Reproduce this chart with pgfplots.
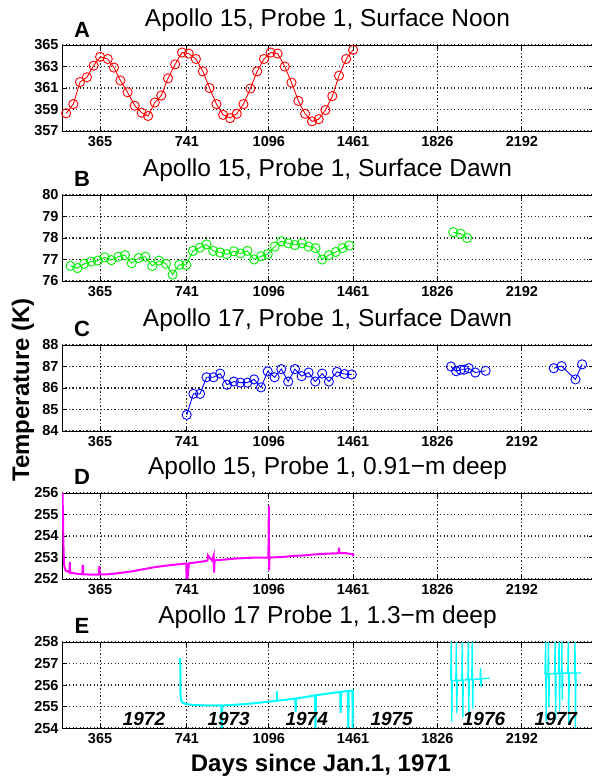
\documentclass[border=0pt]{standalone}
\usepackage{pgfplots}
\pgfplotsset{compat=1.18}
\usepackage{fontspec}
\setmainfont{Liberation Sans}

\definecolor{mred}{RGB}{255,0,0}
\definecolor{mgreen}{RGB}{0,240,0}
\definecolor{mblue}{RGB}{0,0,255}
\definecolor{mmag}{RGB}{255,0,255}
\definecolor{mcyan}{RGB}{0,255,255}

\pgfplotsset{
  panel/.style={
    width=531pt, height=86pt, scale only axis,
    anchor=north west,
    xmin=200, xmax=2500,
    xtick={365,741,1096,1461,1826,2192},
    grid=major,
    grid style={black!85, line width=1.1pt, dash pattern=on 1.1pt off 2.4pt},
    axis line style={black, line width=0.9pt},
    tick style={black, line width=0.9pt},
    tick align=inside, major tick length=4pt,
    tick label style={font=\bfseries\fontsize{14.5}{14.5}\selectfont},
    /pgf/number format/assume math mode=true,
    /pgf/number format/set thousands separator={},
    xticklabel style={yshift=-2pt},
    title style={font=\fontsize{24.5}{24.5}\selectfont, at={(0.5,1)}, anchor=base, yshift=13pt},
  },
  pts/.style={mark=o, mark size=4.6pt, line width=0.9pt, mark options={line width=0.9pt}},
}

\begin{document}
\begin{tikzpicture}

% A: Apollo 15 surface noon
\begin{axis}[panel, at={(62pt,-45pt)}, ymin=357, ymax=365, ytick={357,359,361,363,365},
  title={Apollo 15, Probe 1, Surface Noon}]
\addplot[mred, pts] coordinates {
(218,358.65) (249,359.5) (278,361.55) (308,362.0) (337,363.08) (365,363.9)
(398,363.7) (425,362.9) (453,361.7) (484,360.6) (515,359.35) (545,358.7)
(573,358.4) (602,359.65) (630,360.3) (659,361.9) (690,363.2) (720,364.3)
(749,364.2) (780,363.7) (810,362.55) (839,361.0) (869,359.5) (898,358.5)
(928,358.2) (957,358.6) (986,359.5) (1016,360.95) (1045,362.55) (1075,363.7)
(1104,364.3) (1134,364.2) (1165,363.0) (1194,361.5) (1224,359.8) (1253,358.6)
(1283,357.9) (1312,358.1) (1341,358.95) (1371,360.25) (1400,362.15) (1431,363.7)
(1461,364.55)};
\end{axis}

% B: Apollo 15 surface dawn
\begin{axis}[panel, at={(62pt,-195pt)}, ymin=76, ymax=80, ytick={76,77,78,79,80},
  title={Apollo 15, Probe 1, Surface Dawn}]
\addplot[mgreen, pts] coordinates {
(237,76.7) (267,76.6) (296,76.8) (326,76.9) (355,76.95) (385,77.1) (414,76.97)
(444,77.13) (473,77.2) (502,76.83) (532,77.07) (561,77.13) (591,76.7) (620,76.95)
(650,76.8) (679,76.3) (708,76.75) (738,76.75) (767,77.4) (797,77.55) (826,77.7)
(855,77.4) (885,77.33) (914,77.25) (944,77.38) (973,77.28) (1003,77.4) (1032,77.0)
(1062,77.15) (1091,77.25) (1121,77.6) (1150,77.85) (1180,77.75) (1209,77.67)
(1239,77.75) (1268,77.6) (1298,77.53) (1327,77.0) (1356,77.2) (1386,77.35)
(1415,77.53) (1444,77.65)};
\addplot[mgreen, pts] coordinates {(1895,78.27) (1926,78.2) (1955,78.0)};
\end{axis}

% C: Apollo 17 surface dawn
\begin{axis}[panel, at={(62pt,-345pt)}, ymin=84, ymax=88, ytick={84,85,86,87,88},
  title={Apollo 17, Probe 1, Surface Dawn}]
\addplot[mblue, pts] coordinates {
(740,84.75) (769,85.73) (798,85.73) (826,86.5) (856,86.5) (885,86.67) (915,86.15)
(944,86.3) (973,86.25) (1003,86.25) (1032,86.4) (1062,86.03) (1091,86.77)
(1121,86.5) (1150,86.88) (1180,86.3) (1209,86.88) (1238,86.55) (1268,86.72)
(1297,86.3) (1327,86.67) (1356,86.3) (1391,86.75) (1423,86.65) (1455,86.63)};
\addplot[mblue, pts] coordinates {
(1885,87.0) (1907,86.78) (1927,86.85) (1942,86.85) (1962,86.92) (1990,86.72) (2035,86.8)};
\addplot[mblue, pts] coordinates {(2330,86.92) (2364,87.02) (2424,86.4) (2453,87.1)};
\end{axis}

% D: Apollo 15 0.91 m
\begin{axis}[panel, at={(62pt,-493pt)}, ymin=252, ymax=256, ytick={252,253,254,255,256},
  title={Apollo 15, Probe 1, 0.91−m deep}]
\addplot[mmag, line width=2pt] coordinates {
(201,256.6) (204,255.0) (207,253.2) (210,252.6) (215,252.4) (225,252.35)
(232,252.3) (234,252.8) (236,252.3) (260,252.25) (288,252.22) (290,252.65) (292,252.22)
(330,252.2) (360,252.2) (362,252.6) (364,252.22) (400,252.22) (450,252.28)
(500,252.35) (550,252.45) (600,252.55) (650,252.62) (700,252.68) (738,252.72)
(740,252.0) (742,252.72) (746,252.3) (750,252.73) (800,252.8) (830,252.85) (832,253.1)
(850,252.86) (857,253.1) (859,252.3) (861,252.87) (900,252.9) (950,252.95)
(1000,252.98) (1050,253.0) (1094,253.0) (1096,255.4) (1097,252.4) (1099,253.0)
(1150,253.02) (1200,253.07) (1250,253.1) (1300,253.15) (1350,253.18) (1398,253.2)
(1400,253.45) (1402,253.2) (1430,253.2) (1461,253.15) (1461,253.05)};
\end{axis}

% E: Apollo 17 1.3 m
\begin{axis}[panel, at={(62pt,-642pt)}, ymin=254, ymax=258, ytick={254,255,256,257,258},
  title={Apollo 17 Probe 1, 1.3−m deep}]
\addplot[mcyan, line width=2pt] coordinates {
(712,257.25) (713,255.6) (716,255.3) (722,255.18) (735,255.12) (760,255.08)
(800,255.06) (850,255.05) (890,255.05) (892,254.0) (894,255.05) (950,255.08)
(1000,255.12) (1050,255.17) (1100,255.23) (1130,255.27) (1131,255.7) (1132,255.27)
(1180,255.33) (1210,255.37) (1212,254.75) (1214,255.37) (1260,255.45) (1296,255.52)
(1298,254.0) (1300,255.52) (1350,255.6) (1405,255.68) (1407,254.7) (1409,255.68)
(1438,255.72) (1440,254.0) (1442,255.72) (1458,255.75) (1459,254.0) (1460,255.75)
(1461,255.75)};
\addplot[mcyan, line width=1.4pt] coordinates {
(1884,256.2) (1886,258.0) (1888,254.3) (1890,256.2) (1906,256.22) (1908,258.0)
(1910,254.7) (1912,256.22) (1932,256.22) (1934,258.0) (1936,254.5) (1938,256.23)
(1958,256.24) (1960,258.0) (1962,254.7) (1964,256.25) (1975,256.25) (1977,258.0)
(1979,254.9) (1981,256.26) (2011,256.28) (2013,256.78) (2015,255.9) (2017,256.29)
(2052,256.32)};
\addplot[mcyan, line width=1.4pt] coordinates {
(2292,256.5) (2295,258.0) (2297,254.3) (2299,256.52) (2305,256.52) (2307,258.0)
(2309,255.0) (2311,256.52) (2334,256.53) (2336,258.0) (2338,254.4) (2340,256.53)
(2351,256.54) (2353,258.0) (2355,254.8) (2357,256.54) (2363,256.54) (2365,258.0)
(2367,255.3) (2369,256.55) (2391,256.55) (2393,258.0) (2395,254.2) (2397,256.55)
(2420,256.56) (2422,258.0) (2424,254.0) (2426,256.56) (2447,256.56)};
\node[font=\bfseries\itshape\fontsize{19}{19}\selectfont] at (axis cs:555,254.42) {1972};
\node[font=\bfseries\itshape\fontsize{19}{19}\selectfont] at (axis cs:922,254.42) {1973};
\node[font=\bfseries\itshape\fontsize{19}{19}\selectfont] at (axis cs:1260,254.42) {1974};
\node[font=\bfseries\itshape\fontsize{19}{19}\selectfont] at (axis cs:1628,254.42) {1975};
\node[font=\bfseries\itshape\fontsize{19}{19}\selectfont] at (axis cs:2028,254.42) {1976};
\node[font=\bfseries\itshape\fontsize{19}{19}\selectfont] at (axis cs:2339,254.42) {1977};
\end{axis}

% panel letters and shared labels
\begin{scope}[every node/.style={font=\bfseries\fontsize{22}{22}\selectfont}]
\node at (82pt,-30pt) {A};
\node at (82pt,-179pt) {B};
\node at (82pt,-329pt) {C};
\node at (82pt,-477pt) {D};
\node at (82pt,-626pt) {E};
\end{scope}
\node[font=\bfseries\fontsize{24}{24}\selectfont, rotate=90] at (23pt,-390pt) {Temperature (K)};
\node[font=\bfseries\fontsize{24}{24}\selectfont] at (321pt,-765pt) {Days since Jan.1, 1971};

\pgfresetboundingbox
\useasboundingbox (0pt,0pt) rectangle (592pt,-777pt);
\end{tikzpicture}
\end{document}
